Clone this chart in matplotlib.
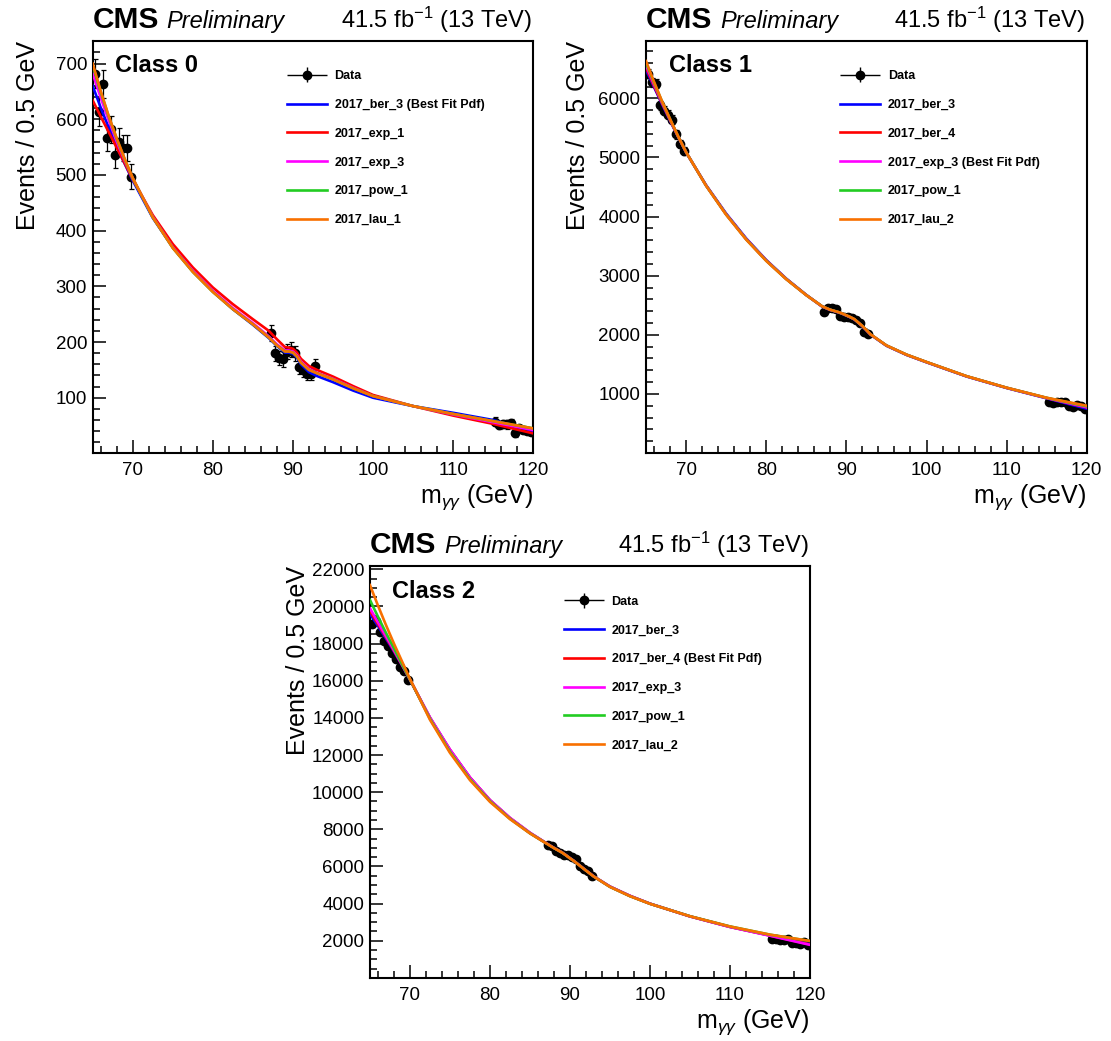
import numpy as np
import matplotlib
matplotlib.use("Agg")
import matplotlib.pyplot as plt
from matplotlib.ticker import MultipleLocator
from matplotlib.container import ErrorbarContainer
from matplotlib.legend_handler import HandlerErrorbar

plt.rcParams['font.family'] = 'Liberation Sans'
plt.rcParams['mathtext.fontset'] = 'custom'
plt.rcParams['mathtext.rm'] = 'Liberation Sans'
plt.rcParams['mathtext.it'] = 'Liberation Sans:italic'
plt.rcParams['mathtext.bf'] = 'Liberation Sans:bold'

# bin centres of the unblinded regions (0.5 GeV bins)
bins_lo = np.arange(65.25, 70.0, 0.5)
bins_z = np.arange(87.25, 93.0, 0.5)
bins_hi = np.arange(115.25, 120.0, 0.5)

mgg = [65, 66, 67, 68, 69, 70, 72.5, 75, 77.5, 80, 82.5, 85, 87, 88, 89, 89.5,
       90, 90.5, 91, 92, 93, 95, 97.5, 100, 105, 110, 115, 120]

pdf_colors = ['#0000ff', '#ff0000', '#ff00ff', '#22cc22', '#f87000']

# ---- Class 0
c0_lo = [682, 613, 663, 566, 582, 535, 560, 548, 548, 497]
c0_z = [216, 180, 171, 169, 183, 186, 180, 156, 150, 143, 143, 157]
c0_hi = [57, 51, 53, 52, 54, 36, 45, 43, 41, 39]
c0_ber3 = [660, 621, 585, 551, 520, 490, 423, 370, 327, 291, 259, 231, 207, 193,
           181, 181, 179, 172, 160, 146, 139, 128, 113, 100, 85, 73, 60, 40]
c0_exp1 = [634, 605, 577, 549, 521, 492, 428, 376, 334, 298, 268, 241, 220, 205,
           191, 190, 188, 181, 170, 157, 150, 138, 121, 105, 85, 68, 53, 36]
c0_exp3 = [682, 639, 598, 560, 526, 494, 425, 370, 328, 292, 261, 234, 210, 196,
           185, 185, 183, 176, 165, 152, 145, 134, 118, 103, 85, 70, 56, 42]
c0_pow1 = [697, 649, 605, 565, 528, 494, 424, 369, 326, 290, 259, 232, 208, 194,
           183, 183, 181, 174, 163, 150, 144, 133, 117, 103, 85, 71, 58, 45]
c0_lau1 = [700, 651, 606, 566, 529, 495, 424, 369, 326, 290, 259, 232, 208, 194,
           183, 183, 181, 174, 163, 150, 144, 133, 117, 103, 85, 71, 58, 45]
c0_labels = ['Data', '2017_ber_3 (Best Fit Pdf)', '2017_exp_1', '2017_exp_3',
             '2017_pow_1', '2017_lau_1']

# ---- Class 1
c1_lo = [6420, 6270, 6250, 5880, 5790, 5720, 5640, 5390, 5230, 5110]
c1_z = [2380, 2450, 2455, 2440, 2310, 2300, 2300, 2280, 2250, 2200, 2050, 2020]
c1_hi = [870, 840, 860, 870, 855, 800, 785, 820, 790, 740]
c1_ber3 = [6480, 6190, 5900, 5620, 5350, 5085, 4530, 4050, 3630, 3265, 2950, 2675,
           2475, 2420, 2380, 2355, 2325, 2295, 2260, 2145, 2005, 1815, 1660, 1535,
           1295, 1100, 925, 750]
c1_ber4 = [6520, 6210, 5915, 5630, 5352, 5088, 4525, 4040, 3620, 3258, 2945, 2672,
           2478, 2422, 2382, 2357, 2327, 2297, 2262, 2147, 2007, 1818, 1663, 1538,
           1298, 1103, 930, 770]
c1_exp3 = [6560, 6240, 5930, 5640, 5355, 5090, 4525, 4040, 3620, 3258, 2945, 2672,
           2478, 2422, 2382, 2357, 2327, 2297, 2262, 2147, 2007, 1818, 1663, 1538,
           1298, 1103, 930, 775]
c1_pow1 = [6600, 6265, 5945, 5648, 5358, 5090, 4522, 4035, 3615, 3254, 2942, 2671,
           2480, 2424, 2384, 2359, 2329, 2299, 2264, 2149, 2009, 1820, 1665, 1540,
           1300, 1105, 934, 790]
c1_lau2 = [6630, 6280, 5950, 5650, 5360, 5090, 4520, 4030, 3610, 3250, 2940, 2670,
           2480, 2424, 2385, 2360, 2330, 2300, 2265, 2150, 2010, 1820, 1665, 1540,
           1300, 1105, 935, 800]
c1_labels = ['Data', '2017_ber_3', '2017_ber_4', '2017_exp_3 (Best Fit Pdf)',
             '2017_pow_1', '2017_lau_2']

# ---- Class 2
c2_lo = [19030, 19200, 18650, 18150, 17850, 17500, 17150, 16750, 16500, 16050]
c2_z = [7150, 7080, 6820, 6700, 6620, 6610, 6500, 6380, 6050, 5850, 5780, 5480]
c2_hi = [2120, 2080, 2060, 2040, 2070, 1900, 1870, 1850, 1950, 1780]
c2_ber3 = [19600, 18950, 18270, 17570, 16830, 16050, 14000, 12270, 10780, 9560,
           8600, 7800, 7260, 6995, 6755, 6605, 6445, 6295, 6125, 5785, 5455, 4915,
           4415, 3995, 3315, 2750, 2290, 1820]
c2_ber4 = [19750, 19050, 18340, 17610, 16850, 16060, 14015, 12285, 10790, 9570,
           8610, 7810, 7265, 6998, 6758, 6608, 6448, 6298, 6128, 5788, 5458, 4918,
           4418, 3998, 3312, 2745, 2280, 1800]
c2_exp3 = [19900, 19150, 18400, 17650, 16880, 16070, 14030, 12300, 10800, 9580,
           8620, 7820, 7270, 7000, 6760, 6610, 6450, 6300, 6130, 5790, 5460, 4920,
           4420, 4000, 3310, 2740, 2270, 1780]
c2_pow1 = [20350, 19450, 18580, 17750, 16900, 16070, 13950, 12180, 10700, 9520,
           8570, 7790, 7255, 6992, 6752, 6602, 6442, 6292, 6122, 5782, 5452, 4902,
           4402, 3992, 3322, 2772, 2328, 1985]
c2_lau2 = [21150, 20050, 19000, 18000, 17050, 16100, 13900, 12120, 10650, 9480,
           8550, 7780, 7250, 6990, 6750, 6600, 6440, 6290, 6120, 5780, 5450, 4900,
           4400, 3990, 3320, 2770, 2330, 1990]
c2_labels = ['Data', '2017_ber_3', '2017_ber_4 (Best Fit Pdf)', '2017_exp_3',
             '2017_pow_1', '2017_lau_2']


def draw_panel(ax, data, curves, labels, class_name, ylim, ymajor, yminor, ylab_x):
    mass = np.concatenate([bins_lo, bins_z, bins_hi])
    counts = np.concatenate([np.asarray(d, dtype=float) for d in data])

    ax.errorbar(mass, counts, yerr=np.sqrt(counts), fmt='o', color='k', ms=6,
                elinewidth=0.9, capsize=1.8, capthick=0.9, zorder=2)
    # legend proxy: horizontal + vertical bar, no caps
    proxy = ax.errorbar([np.nan], [np.nan], xerr=[1], yerr=[1], fmt='o', color='k',
                        ms=6, elinewidth=1.0, capsize=0)
    handles = [proxy]
    for vals, col in zip(curves, pdf_colors):
        line, = ax.plot(mgg, vals, color=col, lw=1.9, zorder=3)
        handles.append(line)

    ax.set_xlim(65, 120)
    ax.set_ylim(*ylim)
    ax.xaxis.set_major_locator(MultipleLocator(10))
    ax.xaxis.set_minor_locator(MultipleLocator(2))
    ax.yaxis.set_major_locator(MultipleLocator(ymajor))
    ax.yaxis.set_minor_locator(MultipleLocator(yminor))
    ax.tick_params(which='both', direction='in', top=False, right=False,
                   labelsize=13.5, width=1.1)
    ax.tick_params(which='major', length=9.5)
    ax.tick_params(which='minor', length=5)
    ax.tick_params(axis='x', pad=7)
    ax.tick_params(axis='y', pad=4)
    for sp in ax.spines.values():
        sp.set_linewidth(1.5)

    ax.set_xlabel(r'm$_{\gamma\gamma}$ (GeV)', fontsize=18, loc='right')
    ax.xaxis.label.set_va('center')
    ax.xaxis.set_label_coords(1.0, -0.1075)
    ax.set_ylabel('Events / 0.5 GeV', fontsize=18, loc='top')
    ax.yaxis.label.set_va('center')
    ax.yaxis.set_label_coords(ylab_x, 1.0)

    ax.text(0.0, 1.031, 'CMS', transform=ax.transAxes, fontsize=21.5,
            fontweight='bold', va='baseline', ha='left')
    ax.text(0.168, 1.031, 'Preliminary', transform=ax.transAxes, fontsize=17,
            fontstyle='italic', va='baseline', ha='left')
    ax.text(0.997, 1.031, r'41.5 fb$^{-1}$ (13 TeV)', transform=ax.transAxes,
            fontsize=17, va='baseline', ha='right')
    ax.text(0.051, 0.923, class_name, transform=ax.transAxes, fontsize=17,
            fontweight='bold', va='baseline', ha='left')

    ax.legend(handles, labels, loc='upper left', bbox_to_anchor=(0.440, 0.928),
              frameon=False, borderpad=0, borderaxespad=0, handlelength=3.2,
              handletextpad=0.64, labelspacing=1.34,
              prop={'size': 9, 'weight': 'bold'},
              handler_map={ErrorbarContainer: HandlerErrorbar(xerr_size=1.6, yerr_size=0.6)})


fig = plt.figure(figsize=(11.11, 10.41), dpi=100)
ax0 = fig.add_axes([0.0834, 0.5651, 0.3966, 0.3958])
ax1 = fig.add_axes([0.5815, 0.5651, 0.3967, 0.3958])
ax2 = fig.add_axes([0.3330, 0.0608, 0.3960, 0.3955])

draw_panel(ax0, [c0_lo, c0_z, c0_hi], [c0_ber3, c0_exp1, c0_exp3, c0_pow1, c0_lau1],
           c0_labels, 'Class 0', (1.3, 741), 100, 20, -0.147)
draw_panel(ax1, [c1_lo, c1_z, c1_hi], [c1_ber3, c1_ber4, c1_exp3, c1_pow1, c1_lau2],
           c1_labels, 'Class 1', (5, 6976), 1000, 200, -0.154)
draw_panel(ax2, [c2_lo, c2_z, c2_hi], [c2_ber3, c2_ber4, c2_exp3, c2_pow1, c2_lau2],
           c2_labels, 'Class 2', (10, 22180), 2000, 500, -0.164)

fig.savefig('out.png', dpi=100)
